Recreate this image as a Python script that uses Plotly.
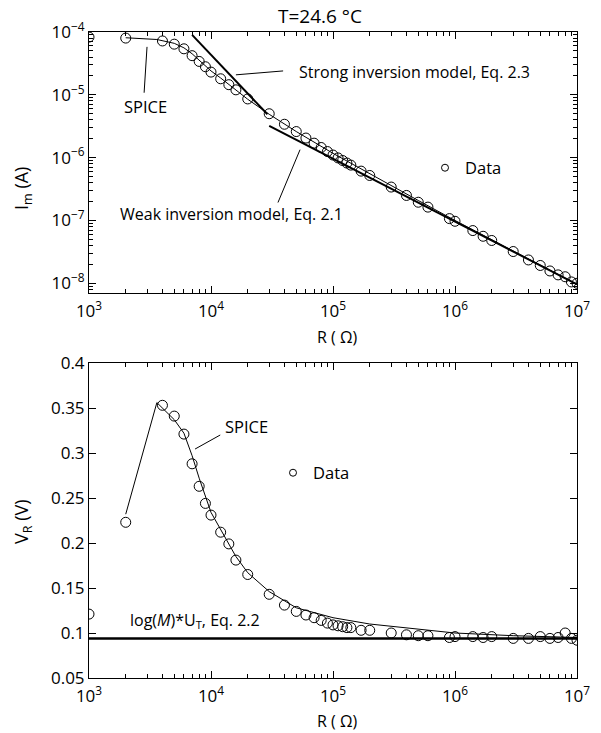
import plotly.graph_objects as go

# ---------------- data ----------------
R = [1e3, 2e3, 4e3, 5e3, 6e3, 7e3, 8e3, 9e3, 1e4, 1.2e4, 1.4e4, 1.6e4, 2e4, 3e4, 4e4,
     5e4, 6e4, 7e4, 8e4, 9e4, 1e5, 1.1e5, 1.2e5, 1.3e5, 1.4e5, 1.7e5, 2e5, 3e5, 4e5,
     5e5, 6e5, 9e5, 1e6, 1.4e6, 1.7e6, 2e6, 3e6, 4e6, 5e6, 6e6, 7e6, 8e6, 9e6, 1e7]

I_m = [8.3e-5, 8.0e-5, 7.2e-5, 6.4e-5, 5.4e-5, 4.2e-5, 3.4e-5, 2.8e-5, 2.3e-5, 1.8e-5,
       1.45e-5, 1.2e-5, 8.6e-6, 5.0e-6, 3.4e-6, 2.6e-6, 2.05e-6, 1.7e-6, 1.45e-6, 1.25e-6,
       1.1e-6, 9.9e-7, 9.0e-7, 8.2e-7, 7.6e-7, 6.1e-7, 5.2e-7, 3.4e-7, 2.5e-7, 1.95e-7,
       1.63e-7, 1.07e-7, 9.7e-8, 6.9e-8, 5.6e-8, 4.8e-8, 3.2e-8, 2.35e-8, 1.92e-8, 1.57e-8,
       1.36e-8, 1.27e-8, 1.05e-8, 1.0e-8]

V_R = [0.121, 0.223, 0.353, 0.341, 0.321, 0.288, 0.263, 0.244, 0.231, 0.212, 0.199, 0.181,
       0.165, 0.143, 0.131, 0.124, 0.120, 0.117, 0.114, 0.111, 0.109, 0.108, 0.107, 0.106,
       0.106, 0.103, 0.103, 0.100, 0.098, 0.097, 0.097, 0.095, 0.096, 0.096, 0.095, 0.096,
       0.094, 0.094, 0.096, 0.094, 0.095, 0.100, 0.094, 0.092]

spice_R = [2e3, 3.6e3, 5e3, 6e3, 7e3, 8e3, 1e4, 1.2e4, 1.6e4, 2e4, 3e4, 5e4, 1e5, 2e5,
           5e5, 1e6, 3e6, 1e7]
spice_I = [8.1e-5, 7.6e-5, 6.6e-5, 5.6e-5, 4.5e-5, 3.6e-5, 2.4e-5, 1.85e-5, 1.2e-5, 8.5e-6,
           4.9e-6, 2.6e-6, 1.17e-6, 5.5e-7, 2.08e-7, 1.0e-7, 3.25e-8, 9.6e-9]
spice_V = [0.232, 0.356, 0.337, 0.322, 0.297, 0.272, 0.234, 0.215, 0.185, 0.167, 0.146,
           0.128, 0.117, 0.110, 0.104, 0.100, 0.097, 0.095]

strong_R = [7e3, 2.9e4]
strong_I = [9.0e-5, 4.9e-6]
weak_R = [3e4, 1e7]
weak_I = [3.2e-6, 9.6e-9]
ut_R = [1e3, 1e7]
ut_V = [0.094, 0.094]

r_tickvals = [1e3, 1e4, 1e5, 1e6, 1e7]
r_ticktext = ["10<sup>3</sup>", "10<sup>4</sup>", "10<sup>5</sup>", "10<sup>6</sup>", "10<sup>7</sup>"]
i_tickvals = [1e-8, 1e-7, 1e-6, 1e-5, 1e-4]
i_ticktext = ["10<sup>\u22128</sup>", "10<sup>\u22127</sup>", "10<sup>\u22126</sup>",
              "10<sup>\u22125</sup>", "10<sup>\u22124</sup>"]
v_tickvals = [0.05, 0.1, 0.15, 0.2, 0.25, 0.3, 0.35, 0.4]
v_ticktext = ["0.05", "0.1", "0.15", "0.2", "0.25", "0.3", "0.35", "0.4"]

# ---------------- figure ----------------
FONT = "Open Sans"
W, H = 601, 733

fig = go.Figure()

# top panel
fig.add_trace(go.Scatter(x=strong_R, y=strong_I, mode="lines", line=dict(color="black", width=2),
                         xaxis="x", yaxis="y", showlegend=False))
fig.add_trace(go.Scatter(x=weak_R, y=weak_I, mode="lines", line=dict(color="black", width=2),
                         xaxis="x", yaxis="y", showlegend=False))
fig.add_trace(go.Scatter(x=spice_R, y=spice_I, mode="lines", line=dict(color="black", width=1),
                         xaxis="x", yaxis="y", showlegend=False))
fig.add_trace(go.Scatter(x=R, y=I_m, mode="markers",
                         marker=dict(symbol="circle-open", size=10, color="black", line=dict(width=1)),
                         xaxis="x", yaxis="y", showlegend=False))
fig.add_trace(go.Scatter(x=[None], y=[None], mode="markers", name="Data",
                         marker=dict(symbol="circle-open", size=7, color="black", line=dict(width=1)),
                         xaxis="x", yaxis="y", showlegend=True, legend="legend"))

# bottom panel
fig.add_trace(go.Scatter(x=ut_R, y=ut_V, mode="lines", line=dict(color="black", width=2.5),
                         xaxis="x2", yaxis="y2", showlegend=False))
fig.add_trace(go.Scatter(x=spice_R, y=spice_V, mode="lines", line=dict(color="black", width=1),
                         xaxis="x2", yaxis="y2", showlegend=False))
fig.add_trace(go.Scatter(x=R, y=V_R, mode="markers",
                         marker=dict(symbol="circle-open", size=10, color="black", line=dict(width=1)),
                         xaxis="x2", yaxis="y2", showlegend=False))
fig.add_trace(go.Scatter(x=[None], y=[None], mode="markers", name="Data",
                         marker=dict(symbol="circle-open", size=7, color="black", line=dict(width=1)),
                         xaxis="x2", yaxis="y2", showlegend=True, legend="legend2"))

xdom = [89 / W, 577 / W]
ytop = [1 - 293 / H, 1 - 32 / H]
ybot = [1 - 678 / H, 1 - 363 / H]

# minor tick positions (2..9 in each decade) for the log axes
minor_x = [m * 10 ** e for e in range(3, 7) for m in range(2, 10)]
minor_y = [m * 10.0 ** e for e in range(-9, -4) for m in range(2, 10)]

axis_common = dict(showline=True, linecolor="black", linewidth=1, mirror="ticks",
                   ticks="inside", ticklen=7, tickcolor="black", tickwidth=1,
                   showgrid=False, zeroline=False, automargin=False,
                   tickfont=dict(family=FONT, size=17, color="black"))
log_x = dict(axis_common, type="log", range=[3, 7], tickmode="array",
             tickvals=r_tickvals, ticktext=r_ticktext, ticklabelstandoff=3,
             minor=dict(tickmode="array", tickvals=minor_x, ticks="inside", ticklen=4,
                        tickcolor="black", showgrid=False))

fig.update_layout(
    template="none",
    width=W, height=H,
    margin=dict(l=0, r=0, t=0, b=0),
    paper_bgcolor="white", plot_bgcolor="white",
    font=dict(family=FONT, color="black"),
    xaxis=dict(log_x, domain=xdom, anchor="y"),
    yaxis=dict(axis_common, type="log", range=[-8.155, -4], tickmode="array",
               tickvals=i_tickvals, ticktext=i_ticktext,
               domain=ytop, anchor="x",
               minor=dict(tickmode="array", tickvals=minor_y, ticks="inside", ticklen=4,
                          tickcolor="black", showgrid=False)),
    xaxis2=dict(log_x, domain=xdom, anchor="y2"),
    yaxis2=dict(axis_common, range=[0.05, 0.4], tickmode="array",
                tickvals=v_tickvals, ticktext=v_ticktext,
                domain=ybot, anchor="x2"),
    legend=dict(x=425 / W, y=1 - 168 / H, xanchor="left", yanchor="middle",
                bgcolor="rgba(0,0,0,0)", borderwidth=0,
                font=dict(family=FONT, size=16.5, color="black")),
    legend2=dict(x=273 / W, y=1 - 473 / H, xanchor="left", yanchor="middle",
                 bgcolor="rgba(0,0,0,0)", borderwidth=0,
                 font=dict(family=FONT, size=16.5, color="black")),
)

# pointer lines (annotation leaders)
leaders = [
    ("x", "y", 2.83e3, 1.08e-5, 2.99e3, 5.8e-5),
    ("x", "y", 1.6e4, 2.08e-5, 3.9e4, 2.4e-5),
    ("x", "y", 3.54e4, 1.93e-7, 5.37e4, 1.34e-6),
    ("x2", "y2", 7.4e3, 0.3044, 1.19e4, 0.32),
]
for xr, yr, x0, y0, x1, y1 in leaders:
    fig.add_shape(type="line", xref=xr, yref=yr, x0=x0, y0=y0, x1=x1, y1=y1,
                  line=dict(color="black", width=1))

ann_font = dict(family=FONT, size=16, color="black")
spice_font = dict(family=FONT, size=16.5, color="black")
anns = [
    dict(text="T=24.6 °C", xref="paper", yref="paper", x=320 / W, y=1 - 16 / H,
         xanchor="center", yanchor="middle", font=dict(family=FONT, size=19, color="black")),
    dict(text="SPICE", xref="x", yref="y", x=3.459, y=-5.19, xanchor="center", yanchor="middle",
         font=spice_font),
    dict(text="Strong inversion model, Eq. 2.3", xref="x", yref="y", x=4.705, y=-4.635,
         xanchor="left", yanchor="middle", font=ann_font),
    dict(text="Weak inversion model, Eq. 2.1", xref="x", yref="y", x=4.172, y=-6.905,
         xanchor="center", yanchor="middle", font=ann_font),
    dict(text="SPICE", xref="x2", yref="y2", x=4.287, y=0.329, xanchor="center", yanchor="middle",
         font=spice_font),
    dict(text="log(<i>M</i>)*U<sub>T</sub>, Eq. 2.2", xref="x2", yref="y2", x=3.869, y=0.1144,
         xanchor="center", yanchor="middle", font=ann_font),
    dict(text="I<sub>m</sub> (A)", xref="paper", yref="paper", x=22 / W, y=1 - 189 / H,
         textangle=-90, xanchor="center", yanchor="middle",
         font=dict(family=FONT, size=18, color="black")),
    dict(text="V<sub>R</sub> (V)", xref="paper", yref="paper", x=22 / W, y=1 - 522 / H,
         textangle=-90, xanchor="center", yanchor="middle",
         font=dict(family=FONT, size=18, color="black")),
    dict(text="R ( Ω)", xref="paper", yref="paper", x=337 / W, y=1 - 337 / H,
         xanchor="center", yanchor="middle", font=dict(family=FONT, size=16, color="black")),
    dict(text="R ( Ω)", xref="paper", yref="paper", x=337 / W, y=1 - 721 / H,
         xanchor="center", yanchor="middle", font=dict(family=FONT, size=16, color="black")),
]
for a in anns:
    fig.add_annotation(showarrow=False, **a)

fig.write_html("out.html", config={"displayModeBar": False},
               post_script="document.body.style.margin='0';")
